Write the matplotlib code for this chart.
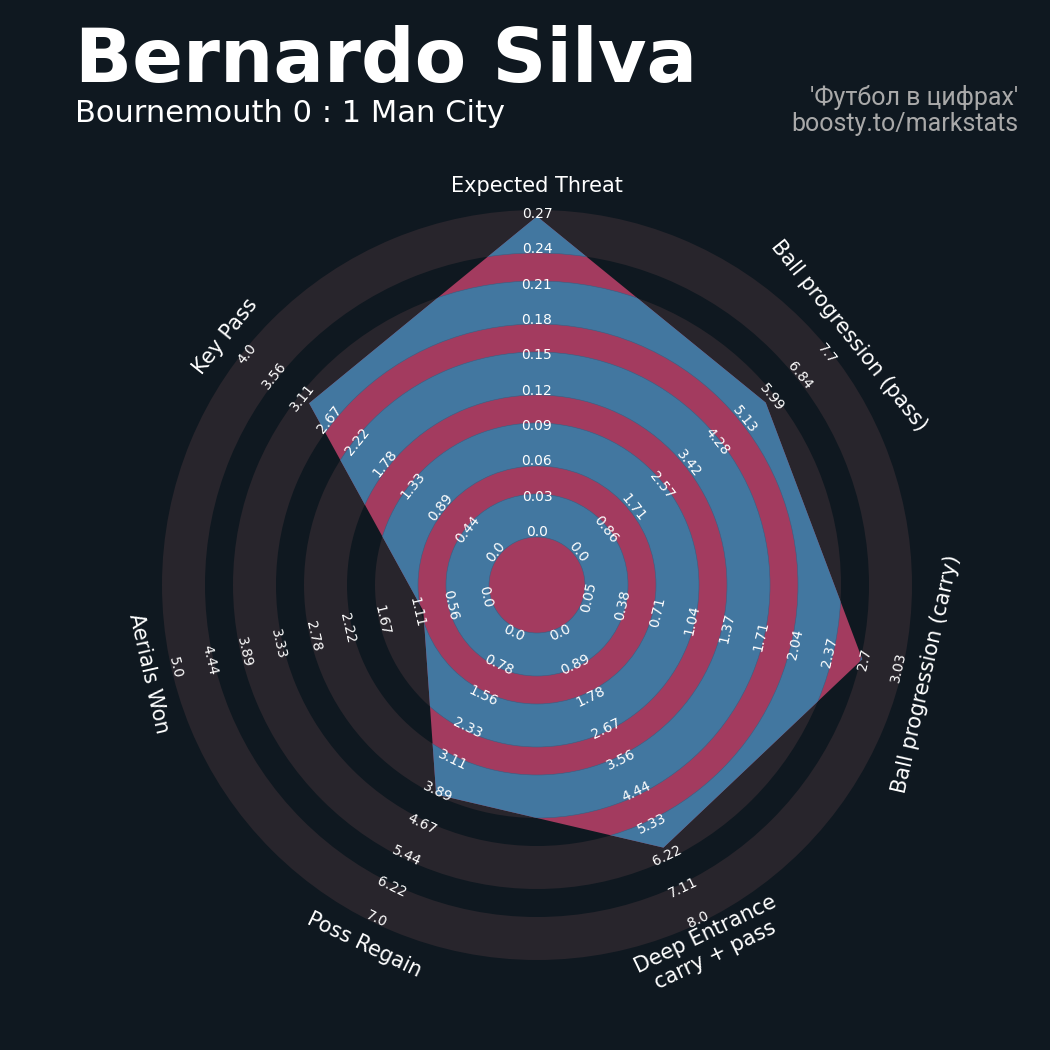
import numpy as np
import matplotlib.pyplot as plt
from matplotlib.patches import Wedge, Polygon

# data
params = ['Expected Threat', 'Ball progression (pass)', 'Ball progression (carry)',
          'Deep Entrance\ncarry + pass', 'Poss Regain', 'Aerials Won', 'Key Pass']
low = [0.0, 0.0, 0.05, 0.0, 0.0, 0.0, 0.0]
high = [0.27, 7.7, 3.03, 8.0, 7.0, 5.0, 4.0]
values = [0.268, 5.8, 2.68, 6.0, 3.95, 1.0, 3.0]

title = 'Bernardo Silva'
subtitle = 'Bournemouth 0 : 1 Man City'
credit = "'Футбол в цифрах'\nboosty.to/markstats"

BG = '#0f1820'
RING = '#28252c'
RED = '#a33b5f'
BLUE = '#4277a0'

# geometry (pixel-like units, centre of the radar at 0,0)
r_in, r_out = 53, 371
ring_starts = [48, 119, 190, 261, 332]
ring_w = 43
n_labels = 10

fig = plt.figure(figsize=(10.5, 10.5), dpi=100, facecolor=BG)
ax = fig.add_axes([0, 0, 1, 1])
ax.set_xlim(-537, 513)
ax.set_ylim(-465, 585)
ax.axis('off')

n = len(params)
theta = np.deg2rad(90 - np.arange(n) * 360 / n)

# grey rings in the background
for rs in ring_starts:
    ax.add_patch(Wedge((0, 0), rs + ring_w, 0, 360, width=ring_w,
                       facecolor=RING, edgecolor='none', zorder=1))

# radar polygon
frac = [(v - lo) / (hi - lo) for v, lo, hi in zip(values, low, high)]
rad = r_in + np.array(frac) * (r_out - r_in)
verts = np.column_stack([rad * np.cos(theta), rad * np.sin(theta)])
poly = Polygon(verts, closed=True, facecolor=RED, edgecolor='none', zorder=3)
ax.add_patch(poly)

# rings inside the polygon
for rs in ring_starts:
    w = Wedge((0, 0), rs + ring_w, 0, 360, width=ring_w,
              facecolor=BLUE, edgecolor='#3a5f82', lw=0.4, zorder=4)
    ax.add_patch(w)
    w.set_clip_path(poly)


def text_rot(t):
    deg = np.rad2deg(t) % 360
    if 0 <= deg <= 180:
        return deg - 90
    return deg + 90


# range labels
label_r = np.linspace(r_in, r_out, n_labels)
for t, lo, hi in zip(theta, low, high):
    rot = text_rot(t)
    for r, v in zip(label_r, np.linspace(lo, hi, n_labels)):
        ax.text(r * np.cos(t), r * np.sin(t), str(round(float(v), 2)),
                rotation=rot, rotation_mode='anchor', ha='center', va='center',
                fontsize=10, color='white', zorder=5)

# parameter labels
for t, p in zip(theta, params):
    ax.text(399 * np.cos(t), 399 * np.sin(t), p, rotation=text_rot(t),
            rotation_mode='anchor', ha='center', va='center',
            multialignment='center', fontsize=15, color='white', zorder=5)

fig.text(75 / 1050, 1 - 82 / 1050, title, fontsize=54, fontweight='bold',
         color='white', va='baseline', ha='left')
fig.text(75 / 1050, 1 - 122 / 1050, subtitle, fontsize=22,
         color='white', va='baseline', ha='left')
fig.text(1018 / 1050, 1 - 131 / 1050, credit, fontsize=18, family='Roboto',
         color='#a9a9a9', va='baseline', ha='right', multialignment='right',
         linespacing=1.1)

fig.savefig('out.png', dpi=100, facecolor=BG)
